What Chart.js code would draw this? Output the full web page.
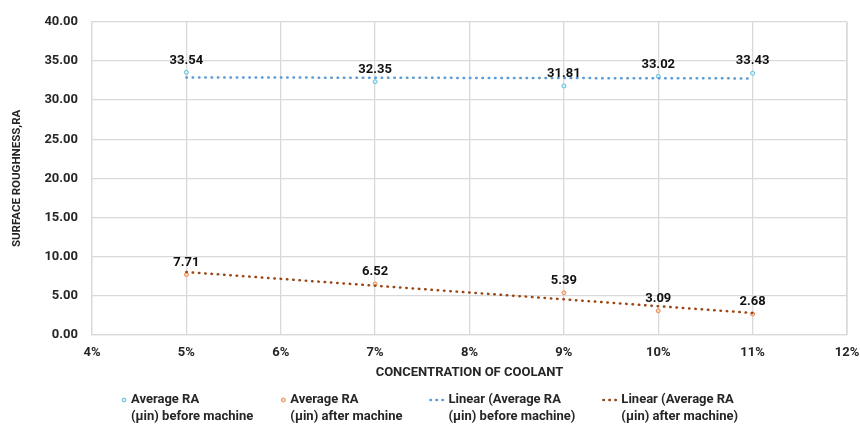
<!DOCTYPE html>
<html>
<head>
<meta charset="utf-8">
<script src="https://cdn.jsdelivr.net/npm/chart.js@4/dist/chart.umd.min.js"></script>
<style>
  html, body { margin: 0; padding: 0; background: #fff; }
  #wrap { width: 860px; height: 427px; }
</style>
</head>
<body>
<div id="wrap"><canvas id="raChart" width="860" height="427"></canvas></div>
<script>
// Values
const concentration = [5, 7, 9, 10, 11];
const raBefore = [33.54, 32.35, 31.81, 33.02, 33.43];
const raAfter = [7.71, 6.52, 5.39, 3.09, 2.68];

// Excel linear trendline ends (at 5% and 11%)
const trendX = [5, 11];
const trendBefore = [32.90, 32.77];
const trendAfter = [8.04, 2.81];

const legendLabels = [
  ["Average RA", "(\u00b5in) before machine"],
  ["Average RA", "(\u00b5in) after machine"],
  ["Linear (Average RA", "(\u00b5in) before machine)"],
  ["Linear (Average RA", "(\u00b5in) after machine)"]
];

const FONT = "Roboto, 'Liberation Sans', sans-serif";
const TEXT = "#262626";
const GRID = "#d9d9d9";

const beforeMarker = "#5fbfdc";
const afterMarker = "#ee8a55";
const beforeTrend = "#5b9bd5";
const afterTrend = "#9a4512";

function toPoints(xs, ys) {
  return xs.map((x, i) => ({ x: x, y: ys[i] }));
}

// Value labels above the markers
const dataLabels = {
  id: "dataLabels",
  afterDatasetsDraw(chart) {
    const ctx = chart.ctx;
    ctx.save();
    ctx.font = "bold 13px " + FONT;
    ctx.fillStyle = "#111";
    ctx.textAlign = "center";
    ctx.textBaseline = "middle";
    [0, 1].forEach(di => {
      const meta = chart.getDatasetMeta(di);
      const vals = chart.data.datasets[di].data;
      meta.data.forEach((el, i) => {
        ctx.fillText(vals[i].y.toFixed(2), el.x, el.y - 12);
      });
    });
    ctx.restore();
  }
};

// Right edge of the plot area, like the Excel gridline at 12%
const plotEdge = {
  id: "plotEdge",
  beforeDatasetsDraw(chart) {
    const a = chart.chartArea;
    const ctx = chart.ctx;
    ctx.save();
    ctx.strokeStyle = GRID;
    ctx.lineWidth = 1.3;
    ctx.beginPath();
    ctx.moveTo(a.right, a.top);
    ctx.lineTo(a.right, a.bottom);
    ctx.stroke();
    ctx.restore();
  }
};

// Two-line legend under the axis title
const bottomLegend = {
  id: "bottomLegend",
  afterDraw(chart) {
    const ctx = chart.ctx;
    ctx.save();
    ctx.font = "bold 13px " + FONT;
    ctx.textBaseline = "middle";
    ctx.textAlign = "left";
    const symW = [9, 9, 18, 18];
    const gap = 28;
    const widths = legendLabels.map((lines, i) =>
      symW[i] + Math.max(...lines.map(l => ctx.measureText(l).width)));
    let x = 122;
    const y1 = 400, y2 = 417;
    legendLabels.forEach((lines, i) => {
      const ds = chart.data.datasets[i];
      if (i < 2) {
        ctx.beginPath();
        ctx.arc(x + 2, y1, 2, 0, Math.PI * 2);
        ctx.fillStyle = ds.backgroundColor;
        ctx.fill();
        ctx.lineWidth = 1;
        ctx.strokeStyle = ds.borderColor;
        ctx.stroke();
      } else {
        ctx.beginPath();
        ctx.setLineDash([0.5, 5.5]);
        ctx.lineCap = "round";
        ctx.lineWidth = 2.5;
        ctx.strokeStyle = ds.borderColor;
        ctx.moveTo(x, y1);
        ctx.lineTo(x + 16, y1);
        ctx.stroke();
        ctx.setLineDash([]);
      }
      ctx.fillStyle = TEXT;
      ctx.fillText(lines[0], x + symW[i], y1);
      ctx.fillText(lines[1], x + symW[i], y2);
      x += widths[i] + gap;
    });
    ctx.restore();
  }
};

new Chart(document.getElementById("raChart"), {
  type: "scatter",
  data: {
    datasets: [
      {
        label: "Average RA (\u00b5in) before machine",
        data: toPoints(concentration, raBefore),
        pointRadius: 2,
        pointBorderWidth: 1,
        borderColor: beforeMarker,
        backgroundColor: "#d6f0f8",
        order: 2
      },
      {
        label: "Average RA (\u00b5in) after machine",
        data: toPoints(concentration, raAfter),
        pointRadius: 2,
        pointBorderWidth: 1,
        borderColor: afterMarker,
        backgroundColor: "#fbd5c0",
        order: 2
      },
      {
        label: "Linear (Average RA (\u00b5in) before machine)",
        data: toPoints(trendX, trendBefore),
        showLine: true,
        pointRadius: 0,
        borderColor: beforeTrend,
        backgroundColor: beforeTrend,
        borderWidth: 2.5,
        borderDash: [0.5, 5.8],
        borderCapStyle: "round",
        order: 1
      },
      {
        label: "Linear (Average RA (\u00b5in) after machine)",
        data: toPoints(trendX, trendAfter),
        showLine: true,
        pointRadius: 0,
        borderColor: afterTrend,
        backgroundColor: afterTrend,
        borderWidth: 2.5,
        borderDash: [0.5, 5.8],
        borderCapStyle: "round",
        order: 1
      }
    ]
  },
  options: {
    responsive: false,
    animation: false,
    layout: { padding: { top: 15, right: 0, bottom: 42, left: 0 } },
    plugins: {
      legend: { display: false },
      tooltip: { enabled: false }
    },
    scales: {
      x: {
        type: "linear",
        min: 4,
        max: 12,
        afterFit(scale) {
          scale.height = 50;
          scale.paddingRight = 13;
        },
        grid: { color: GRID, lineWidth: 1.3, drawTicks: false },
        border: { color: GRID, width: 1.3 },
        ticks: {
          stepSize: 1,
          padding: 10,
          color: TEXT,
          font: { family: FONT, size: 13, weight: "bold" },
          callback: v => v + "%"
        },
        title: {
          display: true,
          text: "CONCENTRATION OF COOLANT",
          color: TEXT,
          font: { family: FONT, size: 13, weight: "bold" },
          padding: { top: 0, bottom: 4 }
        }
      },
      y: {
        min: 0,
        max: 40,
        afterFit(scale) { scale.width = 92; },
        grid: { color: GRID, lineWidth: 1.3, drawTicks: false },
        border: { color: GRID, width: 1.3 },
        ticks: {
          stepSize: 5,
          padding: 14,
          color: TEXT,
          font: { family: FONT, size: 13, weight: "bold" },
          callback: v => v.toFixed(2)
        },
        title: {
          display: true,
          text: "SURFACE ROUGHNESS,RA",
          color: TEXT,
          font: { family: FONT, size: 11.5, weight: "bold" },
          padding: { top: 10, bottom: 0 }
        }
      }
    }
  },
  plugins: [dataLabels, plotEdge, bottomLegend]
});
</script>
</body>
</html>
